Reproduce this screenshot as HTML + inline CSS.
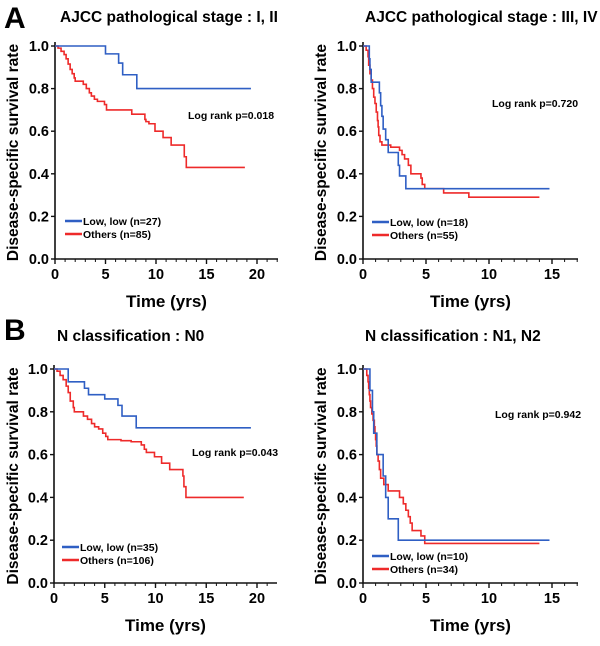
<!DOCTYPE html>
<html><head><meta charset="utf-8"><style>
html,body{margin:0;padding:0;background:#fff;}
svg{display:block;font-family:"Liberation Sans",Arial,sans-serif;font-weight:bold;}
</style></head><body>
<svg id="fig" width="600" height="646" viewBox="0 0 600 646" xmlns="http://www.w3.org/2000/svg">
<text x="4" y="28" font-size="30">A</text>
<text x="4" y="340" font-size="30">B</text>
</svg>
<script>
// Panel A-left: stage I, II
const p1BlueT=[0,5.0,6.3,6.7,8.1,19.4];
const p1BlueS=[1.0,0.963,0.92,0.865,0.80,0.80];
const p1RedT=[0,0.3,0.6,0.9,1.1,1.3,1.5,1.7,1.9,2.0,2.8,3.1,3.4,3.6,3.9,4.2,4.9,5.1,7.6,8.9,9.0,9.3,9.9,10.7,11.5,12.8,13.0,18.8];
const p1RedS=[1.0,0.99,0.975,0.96,0.94,0.915,0.89,0.87,0.85,0.835,0.82,0.80,0.78,0.765,0.75,0.74,0.725,0.70,0.68,0.655,0.645,0.635,0.60,0.57,0.535,0.48,0.43,0.43];
// Panel A-right: stage III, IV
const p2BlueT=[0,0.5,0.55,0.65,0.8,1.3,1.4,1.5,1.6,1.8,2.0,2.8,2.9,3.4,14.8];
const p2BlueS=[1.0,0.94,0.89,0.83,0.83,0.78,0.72,0.67,0.61,0.56,0.50,0.44,0.39,0.33,0.33];
const p2RedT=[0,0.25,0.4,0.45,0.55,0.65,0.75,0.85,0.95,1.05,1.15,1.2,1.25,1.35,1.5,2.2,2.9,3.1,3.3,3.6,3.8,4.6,4.7,4.9,6.4,8.4,14.0];
const p2RedS=[1.0,0.98,0.95,0.91,0.87,0.84,0.80,0.76,0.73,0.69,0.65,0.62,0.58,0.55,0.535,0.525,0.51,0.49,0.47,0.44,0.40,0.38,0.35,0.33,0.31,0.29,0.29];
// Panel B-left: N0
const p3BlueT=[0,1.4,3.0,3.4,5.0,6.3,6.7,8.1,19.4];
const p3BlueS=[1.0,0.94,0.91,0.88,0.86,0.83,0.78,0.725,0.725];
const p3RedT=[0,0.3,0.6,0.9,1.2,1.4,1.6,1.9,2.0,2.9,3.3,3.7,4.0,4.4,4.8,5.1,5.3,6.6,7.6,8.6,8.9,9.1,9.9,10.6,11.4,12.7,12.8,13.0,18.7];
const p3RedS=[1.0,0.99,0.97,0.95,0.92,0.89,0.85,0.82,0.80,0.78,0.765,0.745,0.73,0.72,0.70,0.685,0.67,0.665,0.66,0.645,0.625,0.61,0.59,0.56,0.53,0.50,0.45,0.40,0.40];
// Panel B-right: N1, N2
const p4BlueT=[0,0.5,0.55,0.75,0.85,1.1,1.6,1.8,2.0,2.8,14.8];
const p4BlueS=[1.0,1.0,0.9,0.8,0.7,0.6,0.5,0.4,0.3,0.2,0.2];
const p4RedT=[0,0.3,0.4,0.45,0.5,0.55,0.6,0.7,0.8,0.9,0.95,1.0,1.05,1.1,1.2,1.3,1.4,1.65,2.0,2.9,3.2,3.4,3.6,3.75,3.9,4.6,4.9,14.0];
const p4RedS=[1.0,0.97,0.94,0.91,0.88,0.85,0.82,0.79,0.76,0.73,0.70,0.67,0.64,0.60,0.57,0.53,0.49,0.46,0.43,0.40,0.37,0.34,0.31,0.28,0.245,0.22,0.185,0.185];
const yTicks=["0.0","0.2","0.4","0.6","0.8","1.0"];
const xTicksWide=[0,5,10,15,20];
const xTicksNarrow=[0,5,10,15];

const NS="http://www.w3.org/2000/svg";
const svg=document.getElementById('fig');
function mk(tag,attrs,parent){const e=document.createElementNS(NS,tag);for(const k in attrs)e.setAttribute(k,attrs[k]);(parent||svg).appendChild(e);return e;}

const panels=[
 {id:'a-left',title:'AJCC pathological stage : I, II',x0:55,y0:259,y1:46,xmax:20,xpx:257,xend:278,xt:xTicksWide,bT:p1BlueT,bS:p1BlueS,rT:p1RedT,rS:p1RedS,lr:'Log rank p=0.018',lrx:188,lry:119,lgx:65,lgy:221,ln:['Low, low (n=27)','Others (n=85)'],tx:60,ty:22,yt:13},
 {id:'a-right',title:'AJCC pathological stage : III, IV',x0:363,y0:259,y1:46,xmax:15,xpx:552,xend:578,xt:xTicksNarrow,bT:p2BlueT,bS:p2BlueS,rT:p2RedT,rS:p2RedS,lr:'Log rank p=0.720',lrx:492,lry:107,lgx:372,lgy:222,ln:['Low, low (n=18)','Others (n=55)'],tx:365,ty:22,yt:321},
 {id:'b-left',title:'N classification : N0',x0:54,y0:583,y1:369,xmax:20,xpx:257,xend:277,xt:xTicksWide,bT:p3BlueT,bS:p3BlueS,rT:p3RedT,rS:p3RedS,lr:'Log rank p=0.043',lrx:192,lry:456,lgx:62,lgy:547,ln:['Low, low (n=35)','Others (n=106)'],tx:57,ty:341,yt:13},
 {id:'b-right',title:'N classification : N1, N2',x0:363,y0:583,y1:369,xmax:15,xpx:552,xend:578,xt:xTicksNarrow,bT:p4BlueT,bS:p4BlueS,rT:p4RedT,rS:p4RedS,lr:'Log rank p=0.942',lrx:495,lry:418,lgx:372,lgy:556,ln:['Low, low (n=10)','Others (n=34)'],tx:365,ty:341,yt:321}
];
const BLUE='#2f5fc4',RED='#ee2a2a';
panels.forEach(p=>{
 const g=mk('g',{});
 
 
 const X=t=>p.x0+(p.xpx-p.x0)*t/p.xmax;
 const Y=s=>p.y0-(p.y0-p.y1)*s;
 const t=mk('text',{x:p.tx,y:p.ty,'font-size':15.5},g);t.textContent=p.title;
 
 
 const ax=mk('path',{d:`M${p.x0},${p.y1-4}V${p.y0}H${p.xend}`,stroke:'#111',fill:'none','stroke-width':1.6},g);
 
 
 yTicks.forEach((lab,i)=>{
  const yy=Y(i*0.2);
  mk('line',{x1:p.x0-4,x2:p.x0,y1:yy,y2:yy,stroke:'#111','stroke-width':1.4},g);
  const tl=mk('text',{x:p.x0-6,y:yy+5,'font-size':14.5,'text-anchor':'end'},g);tl.textContent=lab;
  
  
 });
 const xmaxAxis=Math.floor((p.xend-p.x0)/(p.xpx-p.x0)*p.xmax);
 for(let k=0;k<=xmaxAxis;k++){
  const major=k%5===0;
  mk('line',{x1:X(k),x2:X(k),y1:p.y0,y2:p.y0+(major?5:3),stroke:'#111','stroke-width':major?1.4:1},g);
 }
 p.xt.forEach(v=>{
  const tl=mk('text',{x:X(v),y:p.y0+20,'font-size':14.5,'text-anchor':'middle'},g);tl.textContent=v;
  
  
 });
 const xt=mk('text',{x:(p.x0+p.xend)/2,y:p.y0+48,'font-size':17,'text-anchor':'middle'},g);xt.textContent='Time (yrs)';
 
 
 const yc=(p.y0+p.y1)/2;
 const yt=mk('text',{x:p.yt,y:yc,'font-size':15.5,'text-anchor':'middle',transform:`rotate(-90 ${p.yt} ${yc})`,dy:5},g);yt.textContent='Disease-specific survival rate';
 
 
 function step(T,S,col,name){
  let d=`M${X(T[0])},${Y(S[0])}`;
  for(let i=1;i<T.length;i++){d+=`H${X(T[i])}V${Y(S[i])}`;}
  const pth=mk('path',{d,stroke:col,fill:'none','stroke-width':1.6},g);
  
  
 }
 step(p.rT,p.rS,RED,'others-curve');
 step(p.bT,p.bS,BLUE,'low-low-curve');
 const lr=mk('text',{x:p.lrx,y:p.lry,'font-size':10.5},g);lr.textContent=p.lr;
 
 
 [[BLUE,0],[RED,1]].forEach(([c,i])=>{
  const yy=p.lgy+i*13;
  const le=mk('g',{},g);
  
  
  mk('line',{x1:p.lgx,x2:p.lgx+17,y1:yy,y2:yy,stroke:c,'stroke-width':2.5},le);
  const lt=mk('text',{x:p.lgx+18,y:yy+4,'font-size':10.5},le);lt.textContent=p.ln[i];
 });
});
</script>
</body></html>
